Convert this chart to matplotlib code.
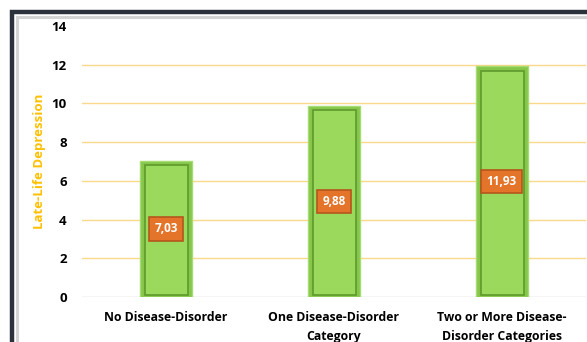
import matplotlib
matplotlib.use("Agg")
from matplotlib import pyplot as plt
from matplotlib.patches import Rectangle
import numpy as np

categories = ["No Disease-Disorder", "One Disease-Disorder\nCategory",
              "Two or More Disease-\nDisorder Categories"]
values = [7.03, 9.88, 11.93]
value_labels = ["7,03", "9,88", "11,93"]
yticks = [0, 2, 4, 6, 8, 10, 12, 14]

plt.rcParams['font.family'] = ['Open Sans', 'DejaVu Sans']

fig = plt.figure(figsize=(5.87, 3.42), dpi=100)
ax = fig.add_axes([0.1397, 0.1316, 0.858, 0.7924])

# outer frame
fig.patches.append(Rectangle((12 / 587, -0.1), 1.2, 1.1 - 12 / 342,
                             transform=fig.transFigure, fill=False,
                             edgecolor='#2b323c', linewidth=3.2, zorder=0))
fig.patches.append(Rectangle((17 / 587, -0.1), 1.2, 1.1 - 17 / 342,
                             transform=fig.transFigure, fill=False,
                             edgecolor='#d4d4d4', linewidth=2.2, zorder=0))

x = np.arange(len(categories))
ax.set_xlim(-0.5, len(categories) - 0.5)
ax.set_ylim(0, 14)

# gridlines (none at 14)
for t in yticks[1:-1]:
    ax.axhline(t, color='#fbd98a', linewidth=1.0, zorder=1)
ax.axhline(0, color='#d0d0d0', linewidth=1.0, zorder=1)

# beveled bars
ax.bar(x, values, width=0.31, color='#86c64a', edgecolor='#a6dc72',
       linewidth=1.0, zorder=2)
inner = [v - 0.35 for v in values]
ax.bar(x + 0.005, inner, width=0.255, bottom=0.12, color='#9ad95b',
       edgecolor='#5f9a2c', linewidth=1.2, zorder=3)

for xi, v, lab in zip(x, values, value_labels):
    ax.text(xi, v / 2, lab, ha='center', va='center', color='white',
            fontsize=8.5, fontweight='bold', zorder=5,
            bbox=dict(boxstyle='square,pad=0.45', facecolor='#e4742a',
                      edgecolor='#b5561c', linewidth=1.2))

ax.set_yticks(yticks)
ax.set_yticklabels([str(t) for t in yticks], fontsize=9.5, fontweight='bold')
ax.set_xticks(x)
ax.set_xticklabels(categories, fontsize=8.8, fontweight='bold', linespacing=1.6)
ax.tick_params(axis='y', length=0, pad=11)
ax.tick_params(axis='x', length=0, pad=10)
for s in ax.spines.values():
    s.set_visible(False)

ax.set_ylabel("Late-Life Depression", color='#ffc000', fontsize=9.5,
              fontweight='bold', labelpad=4)

fig.savefig("out.png", dpi=100, facecolor='white')
